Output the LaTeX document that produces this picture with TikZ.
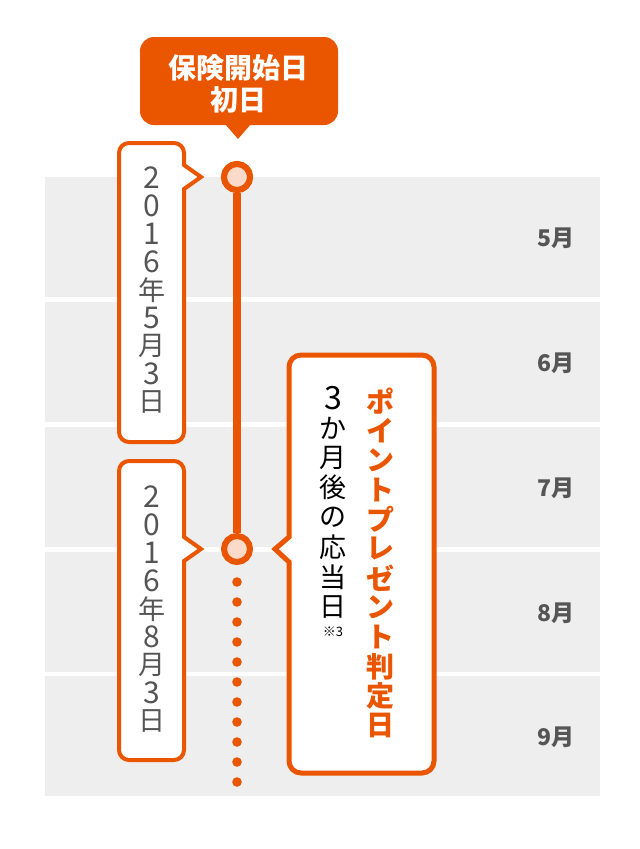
\documentclass[tikz,border=0pt]{standalone}
\usepackage{fontspec}
\setmainfont{Noto Sans CJK JP}
\definecolor{org}{RGB}{234,85,0}
\definecolor{band}{RGB}{238,238,238}
\definecolor{txtgray}{RGB}{85,85,85}
\definecolor{dotpink}{RGB}{252,218,202}
\tikzset{
  callbox/.style={draw=org, line width=4pt, fill=white, line join=miter},
  monthlbl/.style={anchor=east, inner sep=0pt, text=txtgray, font=\bfseries\fontsize{23}{23}\selectfont},
  datechar/.style={inner sep=0pt, text=txtgray, font=\fontsize{27}{27}\selectfont},
  datedigit/.style={inner sep=0pt, text=txtgray, font=\fontsize{30}{30}\selectfont},
  orgchar/.style={inner sep=0pt, text=org, font=\bfseries\fontsize{28}{28}\selectfont},
  blkchar/.style={inner sep=0pt, text=black, font=\fontsize{27}{27}\selectfont},
  milestone/.style={circle, draw=org, line width=6pt, fill=dotpink, minimum size=26pt, inner sep=0pt},
}
\begin{document}
\begin{tikzpicture}[x=1pt,y=-1pt]
\useasboundingbox (0,0) rectangle (640,849);
\fill[white] (0,0) rectangle (640,849);
% month bands
\foreach \t/\m [count=\i] in {177/5,302/6,427/7,552/8,676/9}{
  \fill[band] (45,\t) rectangle (600,\t+120);
  \node[monthlbl] (m\i) at (575,\t+61) {\m 月};
}
% top callout
\fill[org] (140,37) [rounded corners=14pt] rectangle (338,125);
\fill[org] (225,124) -- (238,139) -- (251,124) -- cycle;
\node[inner sep=0pt, text=white, font=\bfseries\fontsize{28}{28}\selectfont] (t1) at (238,68) {保険開始日};
\node[inner sep=0pt, text=white, font=\bfseries\fontsize{28}{28}\selectfont] (t2) at (238,100) {初日};
% timeline
\node[milestone] (c1) at (237,177) {};
\node[milestone] (c2) at (237,549) {};
\draw[org, line width=8pt] (c1.south) -- (c2.north);
\node[milestone] at (c1) {};
\foreach \i in {0,...,10}{
  \fill[org] (237,582+20*\i) circle (4.8);
}
% left callout 1
\draw[callbox] (119,300) [rounded corners=10pt] -- (119,143) -- (184,143) [sharp corners] -- (184,165) -- (201,177) -- (184,189) [rounded corners=10pt] -- (184,442) -- (119,442) -- cycle;
\foreach \c/\s [count=\i] in {2/datedigit,0/datedigit,1/datedigit,6/datedigit,年/datechar,5/datedigit,月/datechar,3/datedigit,日/datechar}{
  \node[\s] (a\i) at (152,178+28*\i-28) {\c};
}
% left callout 2
\draw[callbox] (119,600) [rounded corners=10pt] -- (119,461) -- (184,461) [sharp corners] -- (184,537) -- (201,549) -- (184,561) [rounded corners=10pt] -- (184,760) -- (119,760) -- cycle;
\foreach \c/\s [count=\i] in {2/datedigit,0/datedigit,1/datedigit,6/datedigit,年/datechar,8/datedigit,月/datechar,3/datedigit,日/datechar}{
  \node[\s] (b\i) at (152,497+28*\i-28) {\c};
}
% right callout
\draw[callbox, line width=5pt] (289,700) [rounded corners=12pt] -- (289,773) -- (434,773) -- (434,355) -- (289,355) [sharp corners] -- (289,537) -- (275,549) -- (289,562) [rounded corners=12pt] -- cycle;
\foreach \c [count=\i] in {ポ,イ,ン,ト,プ,レ,ゼ,ン,ト,判,定,日}{
  \node[orgchar] (r\i) at (380,401+29.5*\i-29.5) {\c};
}
\node[inner sep=0pt, text=black, font=\fontsize{32}{32}\selectfont] (k1) at (333,398) {3};
\foreach \c [count=\i from 2] in {か,月,後,の,応,当,日}{
  \node[blkchar] (k\i) at (333,398+29.9*\i-29.9) {\c};
}
\node[inner sep=0pt, font=\fontsize{13}{13}\selectfont] (note) at (333,632) {※3};
\end{tikzpicture}
\end{document}
